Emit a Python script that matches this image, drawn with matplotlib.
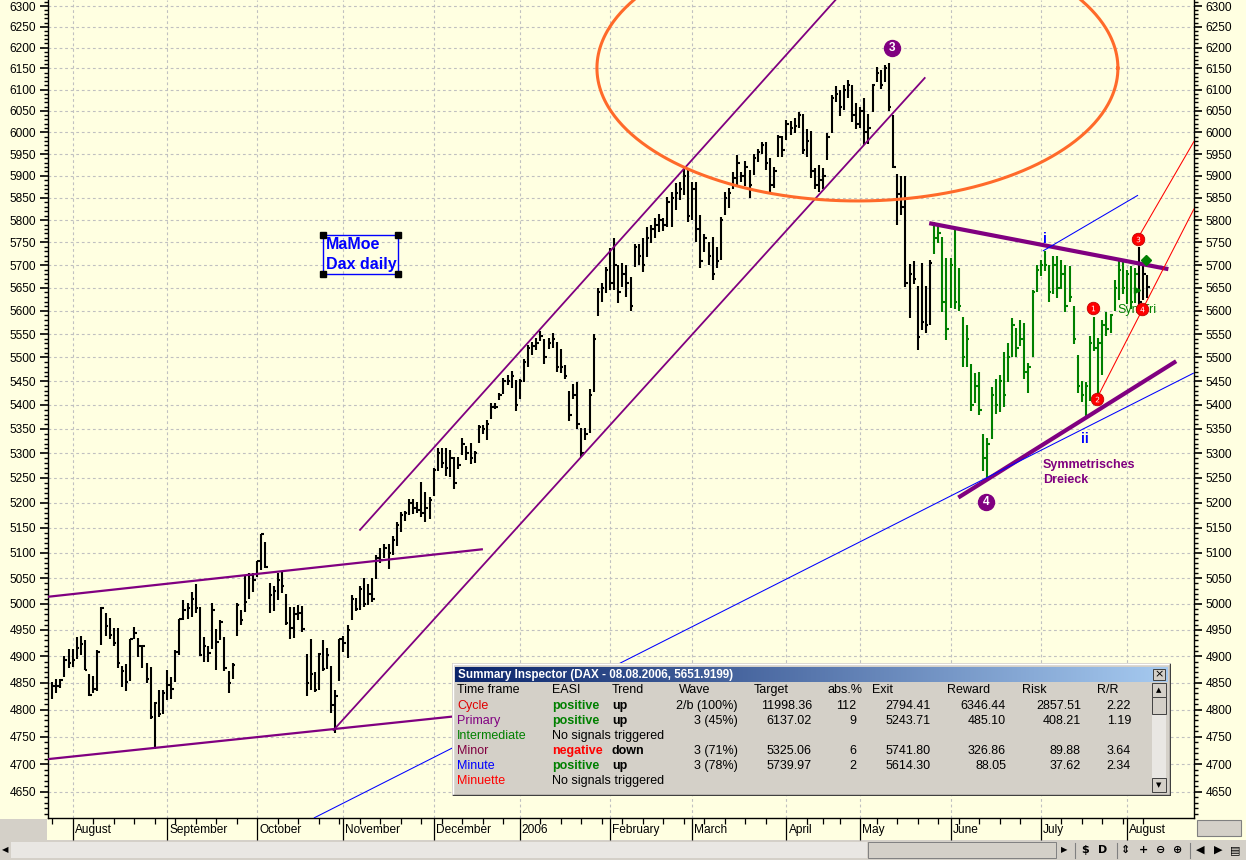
import numpy as np
import pandas as pd
import matplotlib
matplotlib.use('Agg')
import matplotlib.pyplot as plt
import matplotlib.transforms as mtransforms
from matplotlib.patches import Rectangle
from matplotlib.colors import LinearSegmentedColormap
from matplotlib.ticker import FixedLocator, FixedFormatter, NullFormatter

plt.rcParams['font.family'] = ['Liberation Sans', 'DejaVu Sans']

# ---- data -------------------------------------------------------------
holidays = ['2005-12-26', '2006-04-14', '2006-04-17', '2006-05-01']
dates = pd.bdate_range('2005-07-25', '2006-08-08')
dates = dates[~dates.isin(pd.to_datetime(holidays))]

high = [4851, 4858, 4858, 4901, 4914, 4914, 4937, 4938, 4930, 4867, 4862, 4911,
        4995, 4983, 4973, 4953, 4954, 4881, 4885, 4933, 4956, 4934, 4922, 4888,
        4880, 4814, 4837, 4836, 4874, 4861, 4911, 4971, 5007, 5001, 5023, 5038,
        4995, 4937, 4920, 5002, 4951, 4970, 4937, 4872, 4888, 5002, 4989, 5054,
        5061, 5061, 5084, 5138, 5121, 5041, 5034, 5061, 5063, 5020, 4995, 4995,
        4999, 4996, 4905, 4933, 4871, 4906, 4930, 4916, 4881, 4836, 4933, 4939,
        4959, 5017, 5012, 5035, 5050, 5038, 5050, 5095, 5109, 5118, 5118, 5134,
        5161, 5182, 5184, 5207, 5207, 5201, 5242, 5222, 5211, 5270, 5311, 5311,
        5311, 5306, 5293, 5293, 5332, 5314, 5321, 5304, 5359, 5359, 5369, 5403,
        5403, 5424, 5457, 5462, 5471, 5452, 5454, 5497, 5527, 5532, 5541, 5557,
        5539, 5541, 5553, 5534, 5518, 5485, 5429, 5443, 5448, 5352, 5352, 5433,
        5551, 5650, 5660, 5696, 5737, 5760, 5700, 5704, 5701, 5674, 5746, 5746,
        5759, 5785, 5789, 5804, 5813, 5804, 5852, 5864, 5883, 5886, 5917, 5917,
        5886, 5885, 5811, 5768, 5751, 5763, 5740, 5807, 5864, 5873, 5909, 5948,
        5909, 5934, 5913, 5949, 5962, 5977, 5977, 5940, 5921, 5994, 5992, 6029,
        6027, 6034, 6048, 6042, 6008, 6003, 5917, 5925, 5917, 5998, 6088, 6109,
        6098, 6112, 6122, 6112, 6068, 6058, 6080, 6042, 6114, 6154, 6146, 6158,
        6162, 6040, 5904, 5900, 5900, 5702, 5710, 5653, 5705, 5653, 5712, 5795,
        5787, 5762, 5715, 5715, 5780, 5693, 5587, 5570, 5486, 5466, 5469, 5339,
        5331, 5437, 5455, 5462, 5511, 5531, 5584, 5562, 5580, 5573, 5489, 5646,
        5700, 5711, 5730, 5700, 5719, 5719, 5711, 5700, 5697, 5610, 5506, 5451,
        5448, 5545, 5587, 5541, 5580, 5598, 5594, 5668, 5710, 5711, 5690, 5697,
        5693, 5741, 5697, 5678]
low = [4820, 4830, 4841, 4861, 4877, 4880, 4894, 4903, 4874, 4826, 4831, 4834,
       4922, 4939, 4933, 4920, 4877, 4842, 4834, 4853, 4933, 4899, 4877, 4849,
       4783, 4727, 4786, 4792, 4818, 4820, 4851, 4903, 4970, 4971, 4975, 4983,
       4901, 4890, 4890, 4914, 4874, 4930, 4872, 4830, 4857, 4938, 4959, 4984,
       5009, 5023, 5052, 5066, 5070, 4982, 4986, 5007, 5022, 4959, 4933, 4935,
       4970, 4946, 4826, 4836, 4833, 4837, 4872, 4875, 4794, 4756, 4853, 4909,
       4896, 4970, 4986, 4989, 4994, 4999, 5003, 5048, 5080, 5089, 5068, 5095,
       5113, 5142, 5164, 5175, 5177, 5179, 5171, 5161, 5168, 5213, 5264, 5270,
       5254, 5252, 5227, 5267, 5297, 5287, 5279, 5281, 5322, 5339, 5327, 5370,
       5391, 5410, 5422, 5441, 5436, 5387, 5412, 5447, 5480, 5506, 5515, 5536,
       5487, 5518, 5520, 5469, 5466, 5454, 5366, 5412, 5349, 5293, 5327, 5342,
       5426, 5588, 5620, 5638, 5645, 5645, 5616, 5652, 5631, 5600, 5696, 5700,
       5685, 5718, 5748, 5759, 5774, 5775, 5785, 5785, 5822, 5845, 5856, 5796,
       5800, 5751, 5693, 5729, 5700, 5667, 5693, 5711, 5811, 5826, 5871, 5875,
       5886, 5877, 5850, 5902, 5931, 5949, 5913, 5864, 5873, 5944, 5944, 5982,
       5995, 5998, 6011, 5949, 5944, 5895, 5871, 5864, 5871, 5936, 5998, 6070,
       6037, 6052, 6080, 6025, 6008, 6011, 5970, 5973, 6048, 6118, 6102, 6118,
       6050, 5917, 5789, 5811, 5652, 5584, 5659, 5516, 5559, 5553, 5570, 5725,
       5748, 5598, 5538, 5606, 5605, 5600, 5479, 5479, 5388, 5403, 5378, 5264,
       5250, 5329, 5381, 5385, 5396, 5447, 5502, 5502, 5524, 5455, 5424, 5502,
       5641, 5675, 5686, 5620, 5637, 5628, 5648, 5598, 5620, 5529, 5424, 5407,
       5375, 5409, 5513, 5415, 5462, 5545, 5552, 5600, 5624, 5637, 5615, 5605,
       5617, 5594, 5624, 5628]
close = [4844, 4844, 4856, 4893, 4887, 4892, 4916, 4924, 4874, 4828, 4838, 4909,
         4993, 4957, 4941, 4925, 4887, 4872, 4851, 4932, 4944, 4920, 4919, 4858,
         4786, 4812, 4792, 4830, 4845, 4839, 4909, 4971, 4989, 4993, 5009, 4993,
         4903, 4919, 4907, 4988, 4928, 4965, 4877, 4849, 4883, 4999, 4970, 5004,
         5057, 5046, 5083, 5137, 5072, 5018, 5025, 5047, 5034, 4964, 4954, 4980,
         4982, 4951, 4849, 4867, 4836, 4905, 4875, 4903, 4808, 4826, 4932, 4925,
         4950, 5010, 4990, 5030, 5000, 5020, 5010, 5090, 5085, 5110, 5100, 5125,
         5155, 5175, 5180, 5200, 5190, 5185, 5180, 5190, 5205, 5265, 5300, 5280,
         5270, 5290, 5240, 5275, 5320, 5300, 5290, 5300, 5355, 5350, 5360, 5395,
         5395, 5420, 5450, 5450, 5460, 5400, 5450, 5490, 5520, 5525, 5530, 5545,
         5500, 5530, 5540, 5480, 5480, 5460, 5380, 5420, 5360, 5300, 5340, 5420,
         5540, 5640, 5650, 5690, 5660, 5700, 5640, 5680, 5660, 5610, 5740, 5720,
         5700, 5760, 5780, 5790, 5800, 5790, 5840, 5850, 5860, 5870, 5900, 5810,
         5870, 5780, 5710, 5760, 5720, 5680, 5710, 5800, 5850, 5860, 5895, 5930,
         5900, 5920, 5880, 5940, 5955, 5970, 5930, 5880, 5910, 5990, 5960, 6020,
         6010, 6015, 6040, 5960, 5980, 5910, 5880, 5890, 5900, 5990, 6080, 6090,
         6060, 6100, 6110, 6040, 6020, 6050, 6000, 6010, 6110, 6140, 6110, 6150,
         6060, 5920, 5859, 5830, 5660, 5680, 5670, 5544, 5575, 5570, 5705, 5760,
         5770, 5620, 5560, 5700, 5620, 5610, 5500, 5540, 5400, 5440, 5390, 5290,
         5320, 5420, 5400, 5450, 5420, 5500, 5570, 5520, 5540, 5470, 5480, 5640,
         5690, 5700, 5700, 5640, 5700, 5650, 5680, 5610, 5630, 5540, 5440, 5420,
         5440, 5530, 5520, 5530, 5570, 5560, 5590, 5650, 5690, 5650, 5680, 5620,
         5680, 5620, 5680, 5652]
wave_first, wave_last = '2006-05-26', '2006-08-03'   # green bars

# trend lines as (trading day, price) pairs
range_low = [(-1.0, 4709), (100, 4789)]
range_high = [(-1.0, 5014), (105.0, 5107)]
channel_top = [(74.9, 5144), (193, 6338)]
channel_bottom = [(68.45, 4761), (212.85, 6129)]
tri_top = [(213.8, 5793), (272.1, 5691)]
tri_bottom = [(220.9, 5210), (274.0, 5492)]
blue_long = [(63.8, 4603), (278.3, 5467)]
blue_short = [(241.5, 5731), (264.7, 5856)]
red_a = [(254.7, 5414), (278.4, 5826)]
red_b = [(264.7, 5760), (278.4, 5980)]
circle_days = (132.8, 259.8)
circle_prices = (5843, 6475)

primary_waves = [('3', 204.65, 6200), ('4', 227.6, 5202)]
minor_waves = [('1', 253.7, 5606), ('2', 254.7, 5412), ('3', 264.7, 5758), ('4', 265.75, 5603)]
minute_waves = [('i', 242.0, 5758), ('ii', 251.8, 5329)]

yticks = list(range(4650, 6301, 50))

timeframes = ['Cycle', 'Primary', 'Intermediate', 'Minor', 'Minute', 'Minuette']
tf_colors = ['#E00000', '#800080', '#008000', '#800040', '#0000FF', '#FF0000']
easi = ['positive', 'positive', None, 'negative', 'positive', None]
trend = ['up', 'up', None, 'down', 'up', None]
wave = ['2/b (100%)', '3 (45%)', None, '3 (71%)', '3 (78%)', None]
target = [11998.36, 6137.02, None, 5325.06, 5739.97, None]
abs_pct = [112, 9, None, 6, 2, None]
exit_lvl = [2794.41, 5243.71, None, 5741.80, 5614.30, None]
reward = [6346.44, 485.10, None, 326.86, 88.05, None]
risk = [2857.51, 408.21, None, 89.88, 37.62, None]
rr = [2.22, 1.19, None, 3.64, 2.34, None]

# ---- figure -----------------------------------------------------------
BG = '#FFFFE1'
GRAY = '#D4D0C8'
W, H = 1246, 860
fig = plt.figure(figsize=(W / 100, H / 100), dpi=100, facecolor=BG)

chrome = fig.add_axes([0, 0, 1, 1], zorder=0)
chrome.set_xlim(0, W)
chrome.set_ylim(H, 0)
chrome.axis('off')
chrome.add_patch(Rectangle((0, 819), 47, 21, fc=GRAY, ec='none'))
chrome.add_patch(Rectangle((0, 840), W, 20, fc=GRAY, ec='none'))
chrome.add_patch(Rectangle((11, 842), 856, 16, fc='#E9E7E3', ec='none'))
chrome.add_patch(Rectangle((868, 842), 188, 16, fc=GRAY, ec='#808080', lw=0.7))
chrome.add_patch(Rectangle((1197, 820), 44, 16, fc=GRAY, ec='#808080', lw=0.8))
chrome.text(5, 850, '◀', fontsize=6, ha='center', va='center', family='DejaVu Sans')
chrome.text(1064, 850, '▶', fontsize=6, ha='center', va='center', family='DejaVu Sans')
for sx in [1075, 1117, 1190]:
    chrome.plot([sx, sx], [843, 858], color='#808080', lw=0.8)
for gx, g in [(1085, '$'), (1103, 'D'), (1126, '⇕'), (1144, '+'), (1161, '⊖'),
              (1178, '⊕'), (1200, '◀'), (1218, '▶'), (1235, '▤')]:
    chrome.text(gx, 850, g, fontsize=8, ha='center', va='center', family='DejaVu Sans',
                fontweight='bold')

ax = fig.add_axes([48 / W, 42 / H, 1146 / W, 818 / H], zorder=2)
ax.set_facecolor(BG)
x = np.arange(len(dates))
green = (dates >= wave_first) & (dates <= wave_last)
colors = np.where(green, '#008000', 'black')

ax.vlines(x, low, high, colors=colors, lw=1.5, zorder=3)
ax.hlines(close, x, x + 0.6, colors=colors, lw=1.5, zorder=3)

ax.set_yscale('log')
ax.set_ylim(4603, 6315)
ax.set_xlim(-1.02, 278.35)

ax.yaxis.set_major_locator(FixedLocator(yticks))
ax.yaxis.set_major_formatter(FixedFormatter([str(v) for v in yticks]))
ax.yaxis.set_minor_locator(FixedLocator([v for v in range(4610, 6311, 10) if v % 50]))
ax.yaxis.set_minor_formatter(NullFormatter())
ax.tick_params(axis='y', which='both', left=True, right=True, labelleft=True,
               labelright=True, direction='out', labelsize=8.6, pad=2.5)
ax.tick_params(axis='y', which='major', length=6, width=1.2)
ax.tick_params(axis='y', which='minor', length=3, width=1.0)

wd = dates.weekday
week_idx = [0] + [i for i in range(1, len(dates)) if wd[i] < wd[i - 1]]
month_idx = [i for i in range(1, len(dates)) if dates[i].month != dates[i - 1].month]
ax.set_xticks(month_idx)
ax.set_xticks(week_idx, minor=True)
ax.tick_params(axis='x', which='major', length=16, width=0.9, labelbottom=False)
ax.tick_params(axis='x', which='minor', length=4, width=0.9)
blend = mtransforms.blended_transform_factory(ax.transData, ax.transAxes)
for i in month_idx:
    d = dates[i]
    name = str(d.year) if d.month == 1 else d.strftime('%B')
    ax.text(i + 0.5, -0.0147, name, transform=blend, ha='left', va='center',
            fontsize=8.6, clip_on=False)

ax.grid(True, which='major', color='#C0C0C0', linestyle=(0, (2.5, 2.5)), lw=0.8)
ax.set_axisbelow(True)
ax.spines['top'].set_visible(False)
for s in ['left', 'right', 'bottom']:
    ax.spines[s].set_linewidth(1.0)


def seg(pts, **kw):
    xs, ys = zip(*pts)
    ax.plot(xs, ys, solid_capstyle='butt', zorder=4, **kw)


PURPLE = '#800080'
seg(range_low, color=PURPLE, lw=1.6)
seg(range_high, color=PURPLE, lw=1.6)
seg(channel_top, color=PURPLE, lw=1.3)
seg(channel_bottom, color=PURPLE, lw=1.3)
seg(tri_top, color=PURPLE, lw=3.0)
seg(tri_bottom, color=PURPLE, lw=3.0)
seg(blue_long, color='#0000FF', lw=0.75)
seg(blue_short, color='#0000FF', lw=0.75)
seg(red_a, color='#FF0000', lw=0.75)
seg(red_b, color='#FF0000', lw=0.75)

t = np.linspace(0, 2 * np.pi, 500)
c0 = sum(circle_days) / 2
hw = (circle_days[1] - circle_days[0]) / 2
lo, hi = np.log(circle_prices)
ax.plot(c0 + hw * np.cos(t), np.exp((lo + hi) / 2 + (hi - lo) / 2 * np.sin(t)),
        color='#FF6A2A', lw=2.2, zorder=4)

for lab, wx, wy in primary_waves:
    ax.plot(wx, wy, 'o', ms=11.5, color=PURPLE, zorder=6)
    ax.text(wx, wy, lab, color='white', fontsize=8.5, fontweight='bold',
            ha='center', va='center', zorder=7)

ax.text(259.6, 5602, 'SymTri', color='#008000', fontsize=9, ha='left', va='center', zorder=5)
ax.plot(266.65, 5711, 'D', ms=5, color='#008000', zorder=6)
ax.plot(264.5, 5646, '>', ms=5, color='#008000', zorder=6)

# minor wave counts: red discs with the digit drawn as a marker glyph
for lab, wx, wy in minor_waves:
    ax.plot(wx, wy, 'o', ms=9, color='#FF0000', mec='#C00000', mew=0.6, zorder=6)
    ax.plot(wx, wy, marker=f'${lab}$', ms=4, color='white', mew=0, zorder=7)
for lab, wx, wy in minute_waves:
    ax.text(wx, wy, lab, color='#0000FF', fontsize=10, fontweight='bold',
            ha='center', va='center', zorder=6)

ax.text(241.5, 5276, 'Symmetrisches', color=PURPLE, fontsize=9, fontweight='bold',
        ha='left', va='center', zorder=6)
ax.text(241.5, 5246, 'Dreieck', color=PURPLE, fontsize=9, fontweight='bold',
        ha='left', va='center', zorder=6)

# MaMoe label box
box_days, box_prices = (66.0, 84.3), (5680, 5766)
ax.add_patch(Rectangle((box_days[0], box_prices[0]), box_days[1] - box_days[0],
                       box_prices[1] - box_prices[0], fc='none', ec='#0000FF',
                       lw=1.0, zorder=6))
for bx in box_days:
    for by in box_prices:
        ax.plot(bx, by, 's', ms=4, color='black', zorder=7)
ax.text(66.75, 5746, 'MaMoe', color='#0000FF', fontsize=11.5, fontweight='bold',
        ha='left', va='center', zorder=6)
ax.text(66.75, 5702, 'Dax daily', color='#0000FF', fontsize=11.5, fontweight='bold',
        ha='left', va='center', zorder=6)

# ---- summary inspector window ------------------------------------------
tab = fig.add_axes([452 / W, (H - 796) / H, 719 / W, 133 / H], zorder=5)
tab.axis('off')
tab.add_patch(Rectangle((452, 663), 719, 133, fc=GRAY, ec='none'))
tab.plot([452.5, 1170], [663.8, 663.8], color='white', lw=1)
tab.plot([452.8, 452.8], [663.5, 795.5], color='white', lw=1)
tab.plot([1170.3, 1170.3], [663.5, 795.8], color='#404040', lw=1)
tab.plot([452.5, 1170.5], [795.3, 795.3], color='#404040', lw=1)
cmap = LinearSegmentedColormap.from_list('title', ['#0A246A', '#A6CAF0'])
tab.imshow(np.linspace(0, 1, 256)[None, :], extent=(455, 1168, 682, 667), cmap=cmap,
           aspect='auto', zorder=2)
tab.text(458, 675, 'Summary Inspector (DAX - 08.08.2006, 5651.9199)', color='white',
         fontsize=8.4, fontweight='bold', ha='left', va='center', zorder=3)
tab.add_patch(Rectangle((1153, 669), 12, 11, fc=GRAY, ec='#404040', lw=0.7, zorder=3))
tab.text(1159, 674.5, '×', fontsize=8, ha='center', va='center', zorder=4,
         family='DejaVu Sans')

heads = [('Time frame', 457), ('EASI', 552), ('Trend', 612), ('Wave', 679),
         ('Target', 754), ('abs.%', 828), ('Exit', 872), ('Reward', 947),
         ('Risk', 1022), ('R/R', 1097)]
for h, hx in heads:
    tab.text(hx, 690, h, fontsize=9, ha='left', va='center', zorder=3)

for k, tf in enumerate(timeframes):
    ry = 706 + 15 * k
    tab.text(457, ry, tf, color=tf_colors[k], fontsize=9, ha='left', va='center', zorder=3)
    if easi[k] is None:
        tab.text(552, ry, 'No signals triggered', fontsize=9, ha='left', va='center', zorder=3)
        continue
    tab.text(552, ry, easi[k], color='#008000' if easi[k] == 'positive' else '#FF0000',
             fontsize=9, fontweight='bold', ha='left', va='center', zorder=3)
    tab.text(612, ry, trend[k], fontsize=9, fontweight='bold', ha='left', va='center', zorder=3)
    cells = [(wave[k], 738), (f'{target[k]:.2f}', 812), (str(abs_pct[k]), 856),
             (f'{exit_lvl[k]:.2f}', 931), (f'{reward[k]:.2f}', 1006),
             (f'{risk[k]:.2f}', 1081), (f'{rr[k]:.2f}', 1131)]
    for txt, cx in cells:
        tab.text(cx, ry, txt, fontsize=9, ha='right', va='center', zorder=3)

# scrollbar
tab.add_patch(Rectangle((1152, 697), 14, 81, fc='#E9E7E3', ec='none', zorder=2))
for yb, hb in [(683, 14), (697, 17), (778, 14)]:
    tab.add_patch(Rectangle((1152, yb), 14, hb, fc=GRAY, ec='#404040', lw=0.7, zorder=3))
tab.text(1159, 690, '▲', fontsize=5, ha='center', va='center', zorder=4, family='DejaVu Sans')
tab.text(1159, 785, '▼', fontsize=5, ha='center', va='center', zorder=4, family='DejaVu Sans')

tab.set_xlim(452, 1171)
tab.set_ylim(796, 663)

fig.savefig('out.png', dpi=100, facecolor=BG)
